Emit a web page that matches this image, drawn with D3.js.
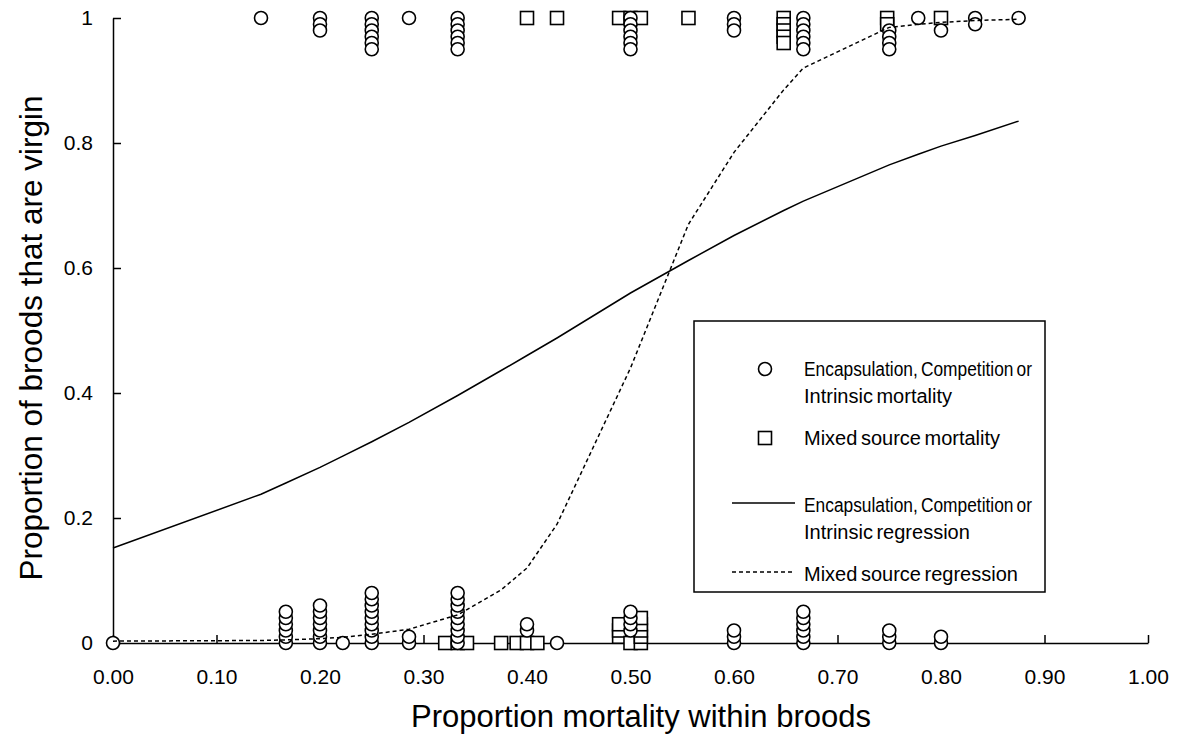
<!DOCTYPE html>
<html>
<head>
<meta charset="utf-8">
<script src="https://cdn.jsdelivr.net/npm/d3@7"></script>
<style>
  body { margin: 0; background: #fff; }
  svg text { font-family: "Liberation Sans", Arial, sans-serif; fill: #000; }
</style>
</head>
<body>
<svg id="chart" width="1185" height="747"></svg>
<script>
// Axis ticks and labels
const xTicks = [0, 0.1, 0.2, 0.3, 0.4, 0.5, 0.6, 0.7, 0.8, 0.9, 1.0];
const yTicks = [0, 0.2, 0.4, 0.6, 0.8, 1];
const yTickLabels = ["0", "0.2", "0.4", "0.6", "0.8", "1"];

// Observed broods: [mortality proportion, stacked positions at 0 (not virgin) or 1 (virgin)]
const circleStacks = [
  [0.000, [0]],
  [0.143, [1]],
  [0.167, [0, 0.01, 0.02, 0.03, 0.04, 0.05]],
  [0.200, [1, 0.99, 0.98]],
  [0.200, [0, 0.01, 0.02, 0.03, 0.04, 0.05, 0.06]],
  [0.222, [0]],
  [0.250, [1, 0.99, 0.98, 0.97, 0.96, 0.95]],
  [0.250, [0, 0.01, 0.02, 0.03, 0.04, 0.05, 0.06, 0.07, 0.08]],
  [0.286, [1]],
  [0.286, [0, 0.01]],
  [0.333, [1, 0.99, 0.98, 0.97, 0.96, 0.95]],
  [0.333, [0, 0.01, 0.02, 0.03, 0.04, 0.05, 0.06, 0.07, 0.08]],
  [0.400, [0.02, 0.03]],
  [0.429, [0]],
  [0.500, [1, 0.99, 0.98, 0.97, 0.96, 0.95]],
  [0.500, [0.02, 0.03, 0.04, 0.05]],
  [0.600, [1, 0.99, 0.98]],
  [0.600, [0, 0.01, 0.02]],
  [0.667, [1, 0.99, 0.98, 0.97, 0.96, 0.95]],
  [0.667, [0, 0.01, 0.02, 0.03, 0.04, 0.05]],
  [0.750, [0.98, 0.97, 0.96, 0.95]],
  [0.750, [0, 0.01, 0.02]],
  [0.778, [1]],
  [0.800, [0.98]],
  [0.800, [0, 0.01]],
  [0.833, [1, 0.99]],
  [0.875, [1]]
];

const squareStacks = [
  [0.321, [0]],
  [0.333, [0]],
  [0.342, [0]],
  [0.375, [0]],
  [0.390, [0]],
  [0.400, [0]],
  [0.400, [1]],
  [0.410, [0]],
  [0.429, [1]],
  [0.489, [1]],
  [0.489, [0.01, 0.02, 0.03]],
  [0.500, [1]],
  [0.500, [0]],
  [0.510, [1]],
  [0.510, [0, 0.01, 0.02, 0.03, 0.04]],
  [0.556, [1]],
  [0.648, [1, 0.99, 0.98, 0.97, 0.96]],
  [0.748, [1, 0.99]],
  [0.800, [1]]
];

// Fitted regression curves, evaluated at the observed mortality levels
const regX = [0, 0.143, 0.167, 0.2, 0.222, 0.25, 0.286, 0.333, 0.375, 0.4, 0.429,
              0.5, 0.556, 0.6, 0.648, 0.667, 0.75, 0.778, 0.8, 0.833, 0.875];
const intrinsicFit = [0.152, 0.238, 0.256, 0.281, 0.299, 0.322, 0.353, 0.396, 0.436, 0.460, 0.488,
                      0.560, 0.612, 0.652, 0.692, 0.707, 0.765, 0.782, 0.795, 0.812, 0.835];
const mixedFit = [0.003, 0.004, 0.005, 0.007, 0.009, 0.014, 0.022, 0.045, 0.085, 0.12, 0.19,
                  0.44, 0.67, 0.785, 0.885, 0.92, 0.985, 0.99, 0.993, 0.996, 0.998];

const legendItems = [
  { kind: "circle", lines: ["Encapsulation, Competition or", "Intrinsic mortality"] },
  { kind: "square", lines: ["Mixed source mortality"] },
  { kind: "solid",  lines: ["Encapsulation, Competition or", "Intrinsic regression"] },
  { kind: "dashed", lines: ["Mixed source regression"] }
];

const svg = d3.select("#chart");
const x = d3.scaleLinear().domain([0, 1]).range([113, 1148]);
const y = d3.scaleLinear().domain([0, 1]).range([643, 18]);

const R = 6.5, S = 13, DASH = "4,3";

// Axes with inward ticks
const xAxis = svg.append("g").attr("transform", `translate(0,${y(0)})`)
  .call(d3.axisBottom(x).tickValues(xTicks).tickFormat(d3.format(".2f"))
    .tickSizeInner(-8).tickSizeOuter(0).tickPadding(26));
const yAxis = svg.append("g").attr("transform", `translate(${x(0)},0)`)
  .call(d3.axisLeft(y).tickValues(yTicks).tickFormat((d, i) => yTickLabels[i])
    .tickSizeInner(-8).tickSizeOuter(0).tickPadding(20));
[xAxis, yAxis].forEach(g => {
  g.selectAll("path, line").attr("stroke", "#000").attr("stroke-width", 1.5);
  g.selectAll("text").style("font-size", "21px").attr("fill", "#000");
});

// Axis titles
svg.append("text").attr("x", 641).attr("y", 716)
  .attr("text-anchor", "middle").attr("dominant-baseline", "central")
  .style("font-size", "31px").text("Proportion mortality within broods");
svg.append("text").attr("transform", `translate(31,338) rotate(-90)`)
  .attr("text-anchor", "middle").attr("dominant-baseline", "central")
  .style("font-size", "31.5px").text("Proportion of broods that are virgin");

// Markers
const flat = stacks => stacks.flatMap(([mx, ys]) => ys.map(v => [mx, v]));
svg.append("g").selectAll("rect").data(flat(squareStacks)).join("rect")
  .attr("x", d => x(d[0]) - S / 2).attr("y", d => y(d[1]) - S / 2)
  .attr("width", S).attr("height", S)
  .attr("fill", "#fff").attr("stroke", "#000").attr("stroke-width", 1.6);
svg.append("g").selectAll("circle").data(flat(circleStacks)).join("circle")
  .attr("cx", d => x(d[0])).attr("cy", d => y(d[1])).attr("r", R)
  .attr("fill", "#fff").attr("stroke", "#000").attr("stroke-width", 1.6);

// Regression curves
const line = d3.line().x((d, i) => x(regX[i])).y(d => y(d));
svg.append("path").datum(intrinsicFit).attr("d", line)
  .attr("fill", "none").attr("stroke", "#000").attr("stroke-width", 1.5);
svg.append("path").datum(mixedFit).attr("d", line)
  .attr("fill", "none").attr("stroke", "#000").attr("stroke-width", 1.5)
  .attr("stroke-dasharray", DASH);

// Legend
const lg = svg.append("g");
lg.append("rect").attr("x", 694).attr("y", 321).attr("width", 351).attr("height", 271)
  .attr("fill", "#fff").attr("stroke", "#000").attr("stroke-width", 1.5);
const rowY = [369, 438, 505, 574];
const lineH = 26.5;
const maxTextW = 228;
legendItems.forEach((item, i) => {
  const cy = rowY[i];
  if (item.kind === "circle") {
    lg.append("circle").attr("cx", 765).attr("cy", cy).attr("r", R)
      .attr("fill", "#fff").attr("stroke", "#000").attr("stroke-width", 1.6);
  } else if (item.kind === "square") {
    lg.append("rect").attr("x", 765 - S / 2).attr("y", cy - S / 2).attr("width", S).attr("height", S)
      .attr("fill", "#fff").attr("stroke", "#000").attr("stroke-width", 1.6);
  } else {
    lg.append("line").attr("x1", 732).attr("x2", 795).attr("y1", cy - 2).attr("y2", cy - 2)
      .attr("stroke", "#000").attr("stroke-width", 1.5)
      .attr("stroke-dasharray", item.kind === "dashed" ? DASH : null);
  }
  item.lines.forEach((t, j) => {
    const txt = lg.append("text").attr("x", 804).attr("y", cy + j * lineH)
      .attr("dominant-baseline", "central").style("font-size", "20px")
      .style("word-spacing", "-2px").text(t);
    // keep long legend lines inside the frame
    if (txt.node().getComputedTextLength() > maxTextW) {
      txt.attr("textLength", maxTextW).attr("lengthAdjust", "spacingAndGlyphs");
    }
  });
});
</script>
</body>
</html>
